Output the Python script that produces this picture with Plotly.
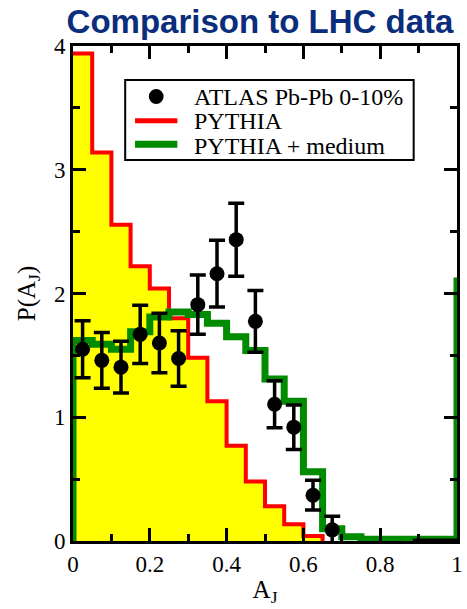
import plotly.graph_objects as go

# ---------------- data ----------------
bin_edges = [0.0, 0.05, 0.1, 0.15, 0.2, 0.25, 0.3, 0.35, 0.4, 0.45, 0.5,
             0.55, 0.6, 0.65, 0.7, 0.75, 0.8, 0.85, 0.9, 0.95, 1.0]

pythia = [3.94, 3.14, 2.555, 2.22, 2.04, 1.80, 1.48, 1.13, 0.77, 0.48,
          0.28, 0.135, 0.04]

pythia_medium = [1.62, 1.59, 1.55, 1.69, 1.81, 1.85, 1.83, 1.76, 1.65, 1.54,
                 1.31, 1.13, 0.56, 0.10, 0.035, 0.015, 0.015, 0.015, 0.015, 0.015]
pythia_medium_edge = 2.13   # value of the vertical segment drawn at A_J = 1

atlas_x = [0.025, 0.075, 0.125, 0.175, 0.225, 0.275, 0.325, 0.375, 0.425,
           0.475, 0.525, 0.575, 0.625, 0.675]
atlas_y = [1.55, 1.46, 1.405, 1.67, 1.60, 1.475, 1.91, 2.16, 2.435, 1.775,
           1.105, 0.92, 0.37, 0.09]
atlas_err = [0.23, 0.225, 0.21, 0.235, 0.24, 0.225, 0.24, 0.27, 0.295, 0.25,
             0.19, 0.18, 0.12, 0.11]

atlas_tail_x = [0.885, 1.0]
atlas_tail_y = [0.0, 0.0]

x_ticks = [0, 0.2, 0.4, 0.6, 0.8, 1]
y_ticks = [0, 1, 2, 3, 4]

legend_labels = ["ATLAS Pb-Pb 0-10%", "PYTHIA", "PYTHIA + medium"]


def step(edges, vals):
    xs, ys = [], []
    for i, v in enumerate(vals):
        xs += [edges[i], edges[i + 1]]
        ys += [v, v]
    return xs, ys


px, py = step(bin_edges, pythia)
mx, my = step(bin_edges, pythia_medium)

RED = "#ff0000"
GREEN = "#008b00"
YELLOW = "#ffff00"
SERIF = "Liberation Serif"

fig = go.Figure()

# yellow filled PYTHIA histogram
fig.add_trace(go.Scatter(x=px, y=py, mode="lines", fill="tozeroy",
                         fillcolor=YELLOW, line=dict(width=0, color=YELLOW),
                         showlegend=False, hoverinfo="skip"))
# red outline
fig.add_trace(go.Scatter(x=px + [px[-1]], y=py + [0], mode="lines",
                         line=dict(color=RED, width=4, shape="linear"),
                         showlegend=False))
# green PYTHIA + medium
fig.add_trace(go.Scatter(x=[0] + mx + [bin_edges[-1]],
                         y=[0] + my + [pythia_medium_edge],
                         mode="lines", line=dict(color=GREEN, width=7),
                         showlegend=False))
# ATLAS tail segment
fig.add_trace(go.Scatter(x=atlas_tail_x, y=atlas_tail_y, mode="lines",
                         line=dict(color="black", width=5),
                         cliponaxis=False, showlegend=False))
# ATLAS points
fig.add_trace(go.Scatter(x=atlas_x, y=atlas_y, mode="markers",
                         marker=dict(color="black", size=15),
                         error_y=dict(type="data", array=atlas_err,
                                      color="black", thickness=3.5, width=8),
                         showlegend=False))

axis_common = dict(
    showline=True, linecolor="black", linewidth=3, mirror="allticks",
    ticks="inside", ticklen=13, tickwidth=3, tickcolor="black",
    showgrid=False, zeroline=False,
    tickfont=dict(family=SERIF, size=23, color="black"),
)

fig.update_xaxes(range=[0, 1], tickvals=x_ticks,
                 ticktext=[f"{v:g}" for v in x_ticks],
                 minor=dict(dtick=0.1, tick0=0, ticks="inside", ticklen=7,
                            tickwidth=3, tickcolor="black"),
                 title=dict(text="A<sub>J</sub>", standoff=5,
                            font=dict(family=SERIF, size=25, color="black")),
                 **axis_common)
fig.update_yaxes(range=[0, 4], tickvals=y_ticks,
                 ticktext=[f"{v:g}" for v in y_ticks],
                 minor=dict(dtick=0.5, tick0=0, ticks="inside", ticklen=7,
                            tickwidth=3, tickcolor="black"),
                 title=dict(text="P(A<sub>J</sub>)", standoff=12,
                            font=dict(family=SERIF, size=25, color="black")),
                 **axis_common)

# ---------- manual legend (paper coords of the plot area) ----------
W, H = 467, 609
L, R, T, B = 73, 4, 46, 68
pw, ph = W - L - R, H - T - B


def fx(pxl):
    return (pxl - L) / pw


def fy(pyl):
    return (H - B - pyl) / ph


shapes = [
    dict(type="rect", xref="paper", yref="paper",
         x0=fx(126), x1=fx(419), y0=fy(160), y1=fy(80),
         line=dict(color="black", width=2), fillcolor="white", layer="above"),
    dict(type="circle", xref="paper", yref="paper",
         x0=fx(150), x1=fx(165), y0=fy(104), y1=fy(89),
         line=dict(color="black", width=0), fillcolor="black", layer="above"),
    dict(type="line", xref="paper", yref="paper",
         x0=fx(136), x1=fx(179), y0=fy(120.7), y1=fy(120.7),
         line=dict(color=RED, width=5), layer="above"),
    dict(type="line", xref="paper", yref="paper",
         x0=fx(136), x1=fx(179), y0=fy(144.3), y1=fy(144.3),
         line=dict(color=GREEN, width=7), layer="above"),
]

annotations = []
for lab, yc in zip(legend_labels, [97, 121.5, 145.5]):
    annotations.append(dict(text=lab, xref="paper", yref="paper",
                            x=fx(194), y=fy(yc), xanchor="left",
                            yanchor="middle", showarrow=False,
                            font=dict(family=SERIF, size=24, color="black")))

fig.update_layout(
    width=W, height=H,
    margin=dict(l=L, r=R, t=T, b=B),
    paper_bgcolor="white", plot_bgcolor="white",
    title=dict(text="Comparison to LHC data", x=260 / W, xanchor="center",
               y=1 - 21 / H, yanchor="middle",
               font=dict(family="Liberation Sans", size=33, color="#0a2d7c",
                         weight="bold")),
    shapes=shapes, annotations=annotations,
    showlegend=False,
)

fig.write_html("out.html")
